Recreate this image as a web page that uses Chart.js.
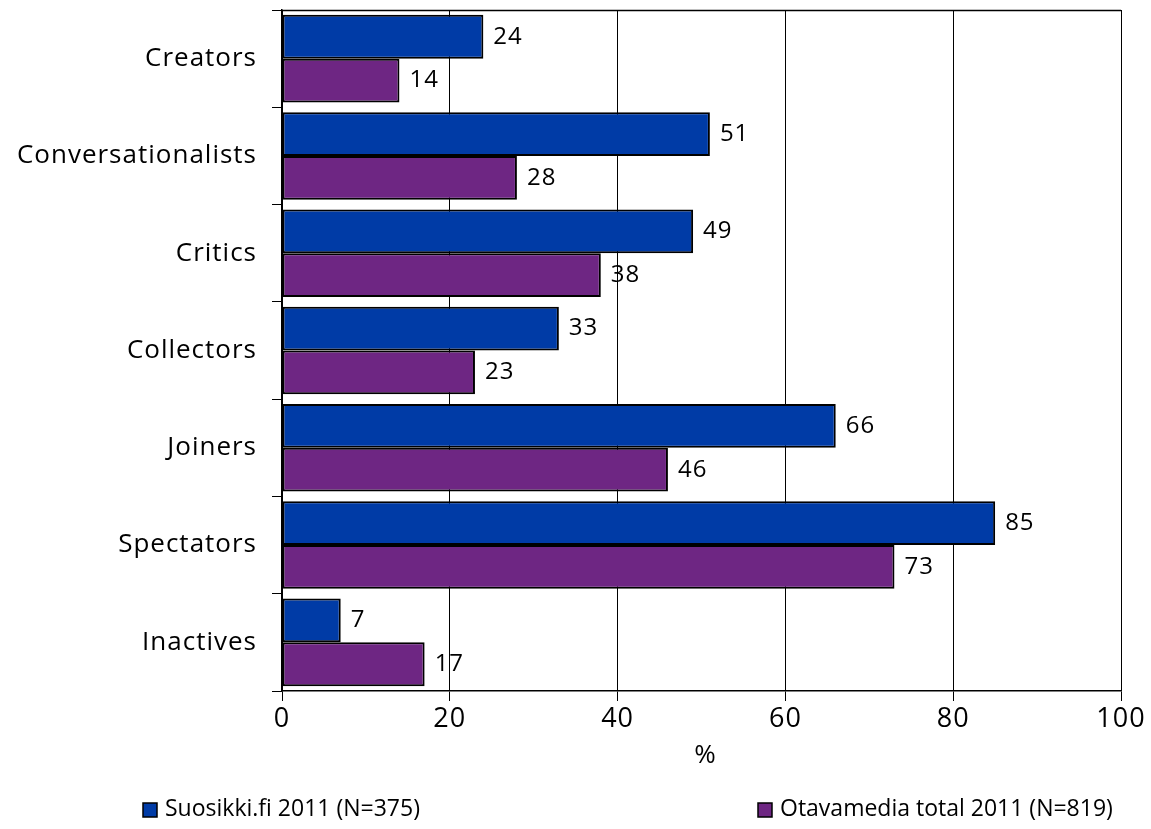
<!DOCTYPE html>
<html>
<head>
<meta charset="utf-8">
<script src="https://cdn.jsdelivr.net/npm/chart.js@4.4.1/dist/chart.umd.min.js"></script>
<style>
  html, body { margin: 0; padding: 0; background: #fff; }
  #wrap { width: 1151px; height: 829px; position: relative; }
</style>
</head>
<body>
<div id="wrap"><canvas id="chart"></canvas></div>
<script>
const categories = ['Creators', 'Conversationalists', 'Critics', 'Collectors', 'Joiners', 'Spectators', 'Inactives'];
const suosikki = [24, 51, 49, 33, 66, 85, 7];
const otavamedia = [14, 28, 38, 23, 46, 73, 17];
const seriesNames = ['Suosikki.fi 2011 (N=375)', 'Otavamedia total 2011 (N=819)'];
const xTicks = [0, 20, 40, 60, 80, 100];

const FONT = '"Open Sans", "DejaVu Sans", sans-serif';
const BLUE = '#003BA6';
const PURPLE = '#6E2683';

Chart.defaults.font.family = FONT;
Chart.defaults.color = '#000';

// the source uses loose tracking on all its text
const spacing = {
  id: 'spacing',
  beforeDraw(chart) { chart.ctx.letterSpacing = '1px'; }
};

// value labels right of each bar
const valueLabels = {
  id: 'valueLabels',
  afterDatasetsDraw(chart) {
    const ctx = chart.ctx;
    ctx.save();
    ctx.font = '24px ' + FONT;
    ctx.letterSpacing = '1px';
    ctx.fillStyle = '#000';
    ctx.textAlign = 'left';
    ctx.textBaseline = 'middle';
    chart.data.datasets.forEach((ds, i) => {
      chart.getDatasetMeta(i).data.forEach((bar, j) => {
        ctx.fillText(String(ds.data[j]), bar.x + 10, bar.y);
      });
    });
    ctx.restore();
  }
};

// top frame line, % title and the spread-out legend
const frame = {
  id: 'frame',
  afterDraw(chart) {
    const ctx = chart.ctx;
    const a = chart.chartArea;
    ctx.save();
    ctx.strokeStyle = '#000';
    ctx.lineWidth = 1.5;
    ctx.beginPath();
    ctx.moveTo(a.left, a.top + 0.5);
    ctx.lineTo(a.right, a.top + 0.5);
    ctx.stroke();

    ctx.fillStyle = '#000';
    ctx.letterSpacing = '0px';
    ctx.font = '26px ' + FONT;
    ctx.textAlign = 'center';
    ctx.textBaseline = 'middle';
    ctx.fillText('%', 705, 756);

    const items = [
      { x: 143, color: BLUE, text: seriesNames[0] },
      { x: 758, color: PURPLE, text: seriesNames[1] }
    ];
    ctx.font = '23px ' + FONT;
    ctx.textAlign = 'left';
    items.forEach(it => {
      ctx.fillStyle = it.color;
      ctx.fillRect(it.x, 803, 14, 14);
      ctx.strokeStyle = '#000';
      ctx.lineWidth = 1.5;
      ctx.strokeRect(it.x, 803, 14, 14);
      ctx.fillStyle = '#000';
      ctx.fillText(it.text, it.x + 22, 809);
    });
    ctx.restore();
  }
};

new Chart(document.getElementById('chart'), {
  type: 'bar',
  data: {
    labels: categories,
    datasets: [
      { label: seriesNames[0], data: suosikki, backgroundColor: BLUE, borderColor: '#000', borderWidth: 2, borderSkipped: false, categoryPercentage: 0.9, barPercentage: 1 },
      { label: seriesNames[1], data: otavamedia, backgroundColor: PURPLE, borderColor: '#000', borderWidth: 2, borderSkipped: false, categoryPercentage: 0.9, barPercentage: 1 }
    ]
  },
  options: {
    indexAxis: 'y',
    responsive: true,
    maintainAspectRatio: false,
    animation: false,
    layout: { padding: { top: 10, right: 30, bottom: 0, left: 0 } },
    plugins: { legend: { display: false }, tooltip: { enabled: false } },
    scales: {
      x: {
        min: 0, max: 100,
        afterBuildTicks: s => { s.ticks = xTicks.map(v => ({ value: v })); },
        afterFit: s => { s.height = 138; },
        grid: { color: '#000', lineWidth: 1, tickLength: 10, tickColor: '#000' },
        border: { display: true, color: '#000', width: 1.5 },
        ticks: { font: { size: 27 }, color: '#000', padding: 2, maxRotation: 0 }
      },
      y: {
        afterFit: s => { s.width = 282; s.paddingTop = 0; s.paddingBottom = 0; },
        grid: { drawOnChartArea: false, tickLength: 10, tickColor: '#000', offset: true },
        border: { display: true, color: '#000', width: 1.5 },
        ticks: { font: { size: 26 }, color: '#000', padding: 15 }
      }
    }
  },
  plugins: [spacing, valueLabels, frame]
});
</script>
</body>
</html>
